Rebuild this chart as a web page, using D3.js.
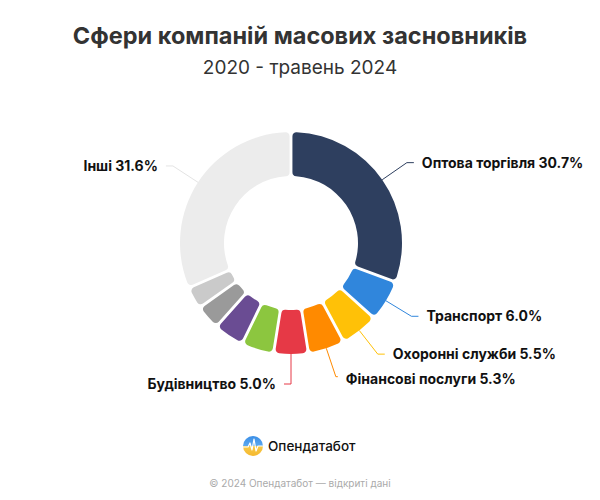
<!DOCTYPE html>
<html>
<head>
<meta charset="utf-8">
<script src="https://cdn.jsdelivr.net/npm/d3@7"></script>
<style>
  html, body { margin: 0; padding: 0; background: #fff; }
  svg { display: block; font-family: Inter, "Noto Sans", sans-serif; }
</style>
</head>
<body>
<svg id="chart" width="600" height="500"></svg>
<script>
const categories = ["Оптова торгівля", "Транспорт", "Охоронні служби", "Фінансові послуги", "Будівництво", "Інше 1", "Інше 2", "Інше 3", "Інше 4", "Інші"];
const values = [30.7, 6.0, 5.5, 5.3, 5.0, 4.7, 4.4, 3.6, 3.2, 31.6];
const showLabel = [true, true, true, true, true, false, false, false, false, true];
const colors = ["#2e3f5f", "#3086dc", "#ffc107", "#ff8a00", "#e63946", "#8cc63f", "#6a4c93", "#9a9a9a", "#cacaca", "#ececec"];
const lineColors = ["#2e3f5f", "#3086dc", "#ffc107", "#ff8a00", "#e63946", "#8cc63f", "#6a4c93", "#9a9a9a", "#cacaca", "#e4e4e4"];

const svg = d3.select("#chart");
const cx = 291, cy = 243, rOut = 111, rIn = 67;

svg.append("text").attr("x", 300).attr("y", 44).attr("text-anchor", "middle")
  .attr("font-size", 23.5).attr("font-weight", 700).attr("fill", "#333")
  .text("Сфери компаній масових засновників");
svg.append("text").attr("x", 300).attr("y", 74).attr("text-anchor", "middle")
  .attr("font-size", 19).attr("font-weight", 400).attr("fill", "#333")
  .text("2020 - травень 2024");

const pie = d3.pie().value(d => d).sort(null);
const arcs = pie(values);
const arc = d3.arc().innerRadius(rIn).outerRadius(rOut).cornerRadius(4).padAngle(0.022);

const g = svg.append("g").attr("transform", `translate(${cx},${cy})`);
g.selectAll("path.slice").data(arcs).join("path")
  .attr("class", "slice")
  .attr("d", arc)
  .attr("fill", (d, i) => colors[i]);

const pt = (a, r) => [r * Math.sin(a), -r * Math.cos(a)];
arcs.forEach((d, i) => {
  if (!showLabel[i]) return;
  const mid = (d.startAngle + d.endAngle) / 2;
  const right = mid < Math.PI - 0.01;
  const p0 = pt(mid, rOut);
  const p1 = pt(mid, rOut + 30);
  const hLen = Math.abs(Math.sin(mid)) < 0.4 && right ? 2 : 7;
  const p2 = [p1[0] + (right ? hLen : -hLen), p1[1]];
  g.append("path")
    .attr("d", d3.line()([p0, p1, p2]))
    .attr("fill", "none").attr("stroke", lineColors[i]).attr("stroke-width", 1);
  g.append("text")
    .attr("x", p2[0] + (right ? 8 : -8)).attr("y", p2[1] + (hLen === 2 ? 2 : 0))
    .attr("dy", "0.35em")
    .attr("text-anchor", right ? "start" : "end")
    .attr("font-size", 14).attr("font-weight", 700).attr("fill", "#111")
    .text(`${categories[i]} ${values[i].toFixed(1)}%`);
});

// Logo
const defs = svg.append("defs");
const grad = defs.append("linearGradient").attr("id", "lg").attr("x1", 0).attr("y1", 0).attr("x2", 0).attr("y2", 1);
grad.append("stop").attr("offset", "0%").attr("stop-color", "#3a8ee6");
grad.append("stop").attr("offset", "48%").attr("stop-color", "#5aa7ef");
grad.append("stop").attr("offset", "52%").attr("stop-color", "#f7c948");
grad.append("stop").attr("offset", "100%").attr("stop-color", "#f5b82e");
const logo = svg.append("g").attr("transform", "translate(253,446)");
logo.append("circle").attr("r", 10).attr("fill", "url(#lg)");
logo.append("path")
  .attr("d", "M-10,1 L-5,1 L-3,-3 L-1,4 L1,-7 L3,5 L5,0 L10,0")
  .attr("fill", "none").attr("stroke", "#fff").attr("stroke-width", 1.2).attr("stroke-linejoin", "round");
svg.append("text").attr("x", 268).attr("y", 451)
  .attr("font-size", 13.5).attr("font-weight", 500).attr("fill", "#111")
  .text("Опендатабот");

svg.append("text").attr("x", 300).attr("y", 487).attr("text-anchor", "middle")
  .attr("font-size", 10).attr("fill", "#aaa")
  .text("© 2024 Опендатабот — відкриті дані");
</script>
</body>
</html>
